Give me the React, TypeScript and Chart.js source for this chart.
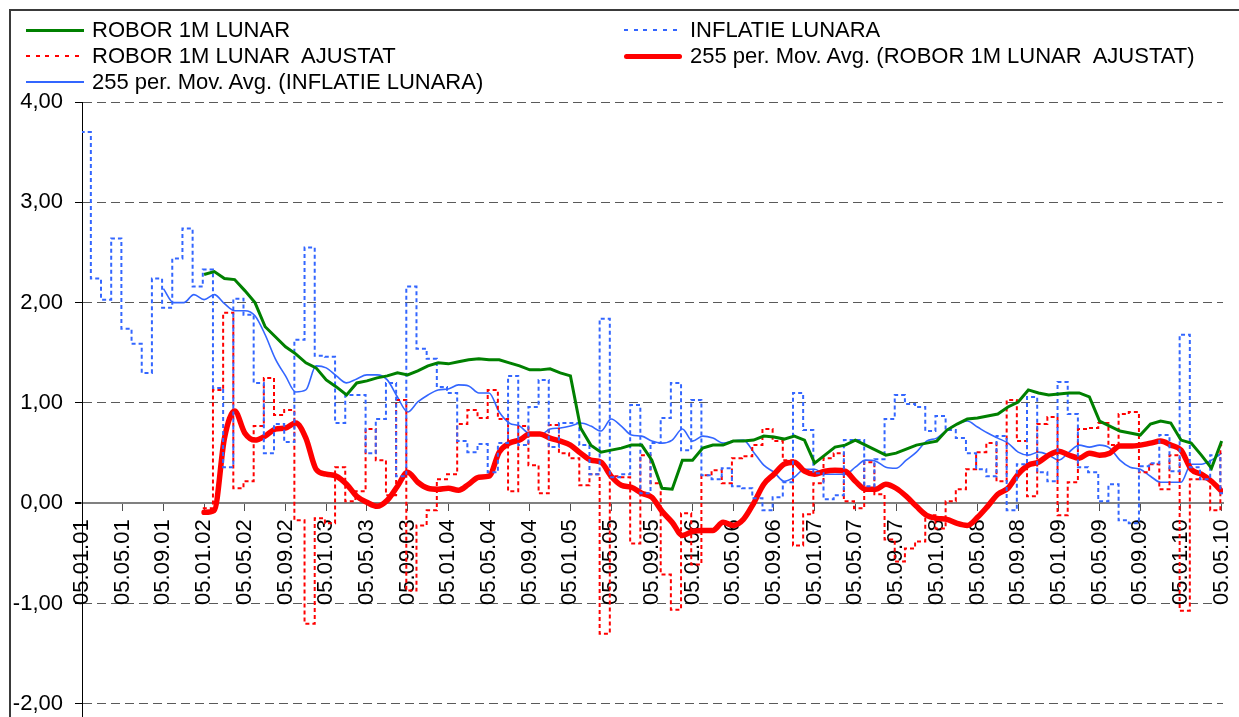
import React, { useEffect, useRef } from "react";
import { Chart, registerables } from "chart.js";

Chart.register(...registerables);

// Month index 0 = 05.01.01, one step = one month
const TICK_LABELS = [
  "05.01.01", "05.05.01", "05.09.01",
  "05.01.02", "05.05.02", "05.09.02",
  "05.01.03", "05.05.03", "05.09.03",
  "05.01.04", "05.05.04", "05.09.04",
  "05.01.05", "05.05.05", "05.09.05",
  "05.01.06", "05.05.06", "05.09.06",
  "05.01.07", "05.05.07", "05.09.07",
  "05.01.08", "05.05.08", "05.09.08",
  "05.01.09", "05.05.09", "05.09.09",
  "05.01.10", "05.05.10",
];
const TICK_STEP_MONTHS = 4;
const Y_TICKS = [-2, -1, 0, 1, 2, 3, 4];
const X_MAX = 112.13;
const Y_MIN = -2.13;
const Y_MAX = 4;
// monthly values are dated on the 1st of the month, ticks on the 5th
const MONTH_START_OFFSET = -0.13;

// ROBOR 1M LUNAR (from month 12)
const ROBOR_START = 12;
const ROBOR = [
  2.28, 2.31, 2.24, 2.23, 2.12, 2.0, 1.76, 1.66,
  1.56, 1.49, 1.4, 1.35, 1.23, 1.16, 1.08, 1.2, 1.22, 1.25,
  1.27, 1.3, 1.28, 1.32, 1.37, 1.4, 1.39, 1.41, 1.43, 1.44,
  1.43, 1.43, 1.4, 1.37, 1.33, 1.33, 1.34, 1.3, 1.27, 0.75,
  0.58, 0.51, 0.53, 0.55, 0.58, 0.58, 0.43, 0.15, 0.14, 0.43,
  0.43, 0.55, 0.58, 0.58, 0.62, 0.62, 0.63, 0.67, 0.66, 0.64,
  0.67, 0.63, 0.4, 0.48, 0.56, 0.58, 0.63, 0.58, 0.53, 0.48,
  0.5, 0.54, 0.58, 0.6, 0.62, 0.73, 0.79, 0.84, 0.85, 0.87,
  0.89, 0.96, 1.01, 1.13, 1.1, 1.08, 1.09, 1.1, 1.1, 1.06,
  0.82, 0.77, 0.72, 0.7, 0.68, 0.79, 0.82, 0.8, 0.63, 0.6,
  0.48, 0.35, 0.62,
];

// INFLATIE LUNARA (monthly, from month 0)
const INFL_START = 0;
const INFL = [
  3.7, 2.24, 2.03, 2.64, 1.74, 1.59, 1.3, 2.24, 1.95, 2.44,
  2.74, 2.16, 2.33, 1.15, 0.36, 2.04, 1.88, 1.2, 0.5, 0.79,
  0.61, 1.63, 2.55, 1.47, 1.46, 0.8, 1.08, 1.08, 0.5, 0.84,
  1.2, 0.27, 2.16, 1.54, 1.44, 1.16, 1.1, 0.62, 0.51, 0.59,
  0.31, 0.6, 1.27, 0.58, 0.96, 1.23, 0.56, 0.8, 0.8, 0.58,
  0.29, 1.84, 0.26, 0.29, 0.98, 0.1, 0.6, 0.85, 1.2, 0.53,
  1.03, 0.28, 0.24, 0.35, 0.17, 0.15, 0.05, -0.07, 0.06, 0.21,
  1.1, 0.73, 0.3, 0.04, 0.08, 0.63, 0.63, 0.17, 0.44, 0.84,
  1.08, 0.99, 0.96, 0.72, 0.87, 0.73, 0.65, 0.5, 0.34, 0.27,
  0.67, -0.07, 0.39, 1.06, 0.31, 0.22, 1.21, 0.89, 0.36, 0.31,
  0.02, 0.19, -0.17, -0.2, 0.37, 0.4, 0.68, 0.32, 1.68, 0.36,
  0.24, 0.48, 0.1,
];

// ROBOR 1M LUNAR  AJUSTAT (from month 12)
const ROBOR_ADJ_START = 12;
const ROBOR_ADJ = [
  -0.05, 1.13, 1.9, 0.15, 0.22, 0.77, 1.25, 0.88,
  0.93, -0.17, -1.2, -0.15, -0.2, 0.36, 0.02, 0.12, 0.74, 0.43,
  0.08, 1.03, -0.87, -0.22, -0.07, 0.24, 0.29, 0.79, 0.93, 0.85,
  1.13, 0.84, 0.12, 0.77, 0.38, 0.1, 0.78, 0.5, 0.45, 0.18,
  0.29, -1.3, 0.27, 0.26, -0.4, 0.48, 0.2, -0.71, -1.06, -0.1,
  -0.61, 0.28, 0.33, 0.2, 0.45, 0.47, 0.58, 0.74, 0.62, 0.43,
  -0.42, -0.11, 0.2, 0.45, 0.5, 0.02, -0.05, 0.41, 0.09, -0.36,
  -0.58, -0.45, -0.38, -0.12, -0.25, 0.02, 0.14, 0.34, 0.51, 0.6,
  0.22, 1.03, 0.62, 0.07, 0.79, 0.86, -0.12, 0.21, 0.74, 0.75,
  0.8, 0.58, 0.89, 0.91, 0.31, 0.39, 0.14, 0.48, -1.07, 0.24,
  0.24, -0.07, 0.58,
];

// 255 per. Mov. Avg. (ROBOR 1M LUNAR  AJUSTAT) (from month 12)
const MA_ADJ_START = 12;
const MA_ADJ = [
  -0.09, -0.07, 0.65, 0.92, 0.7, 0.63, 0.67, 0.74,
  0.75, 0.8, 0.65, 0.34, 0.29, 0.27, 0.19, 0.07, 0.01, -0.03,
  0.03, 0.17, 0.31, 0.21, 0.15, 0.14, 0.15, 0.13, 0.19, 0.26,
  0.27, 0.51, 0.6, 0.63, 0.69, 0.69, 0.65, 0.62, 0.58, 0.5,
  0.43, 0.41, 0.27, 0.18, 0.16, 0.1, 0.06, -0.08, -0.19, -0.32,
  -0.28, -0.27, -0.27, -0.19, -0.22, -0.16, 0.0, 0.19, 0.29, 0.39,
  0.41, 0.32, 0.29, 0.32, 0.33, 0.32, 0.22, 0.14, 0.14, 0.19,
  0.15, 0.07, -0.03, -0.12, -0.15, -0.16, -0.2, -0.22, -0.14, -0.03,
  0.09, 0.15, 0.29, 0.38, 0.41, 0.48, 0.52, 0.48, 0.45, 0.5,
  0.48, 0.5, 0.57, 0.57, 0.58, 0.6, 0.62, 0.58, 0.53, 0.34,
  0.29, 0.22, 0.12,
];

// 255 per. Mov. Avg. (INFLATIE LUNARA) (from month 8)
const MA_INFL_START = 8;
const MA_INFL = [
  2.14, 2.0,
  2.0, 2.08, 2.03, 2.08, 1.99, 1.92, 1.92, 1.87, 1.68, 1.44,
  1.27, 1.11, 1.13, 1.37, 1.35, 1.27, 1.2, 1.24, 1.28, 1.28,
  1.23, 1.06, 0.91, 1.01, 1.08, 1.13, 1.14, 1.18, 1.17, 1.1,
  1.1, 0.91, 0.8, 0.77, 0.69, 0.68, 0.74, 0.75, 0.77, 0.8,
  0.77, 0.72, 0.84, 0.77, 0.68, 0.67, 0.62, 0.6, 0.63, 0.74,
  0.62, 0.67, 0.65, 0.6, 0.62, 0.63, 0.51, 0.38, 0.31, 0.22,
  0.26, 0.34, 0.34, 0.29, 0.29, 0.29, 0.36, 0.43, 0.42, 0.36,
  0.35, 0.43, 0.51, 0.62, 0.65, 0.73, 0.79, 0.82, 0.76, 0.7,
  0.65, 0.6, 0.51, 0.48, 0.51, 0.48, 0.43, 0.51, 0.58, 0.56,
  0.58, 0.55, 0.43, 0.36, 0.34, 0.27, 0.21, 0.21, 0.21, 0.39,
  0.39, 0.43, 0.5,
];

const FONT_FAMILY = '"Liberation Sans", Arial, sans-serif';
const GREEN = "#008000";
const RED = "#FF0000";
const BLUE = "#3366FF";

function toPoints(start: number, values: number[], extendTo?: number) {
  const pts = values.map((v, i) => ({ x: start + i, y: v }));
  if (extendTo !== undefined) pts.push({ x: extendTo, y: values[values.length - 1] });
  return pts;
}

type LegendItem = { label: string; color: string; kind: "solid" | "dotted"; width: number; left: number; top: number };

const LEGEND: LegendItem[] = [
  { label: "ROBOR 1M LUNAR", color: GREEN, kind: "solid", width: 3, left: 26, top: 30 },
  { label: "INFLATIE LUNARA", color: BLUE, kind: "dotted", width: 2, left: 624, top: 30 },
  { label: "ROBOR 1M LUNAR  AJUSTAT", color: RED, kind: "dotted", width: 2, left: 26, top: 56 },
  { label: "255 per. Mov. Avg. (ROBOR 1M LUNAR  AJUSTAT)", color: RED, kind: "solid", width: 5, left: 624, top: 56 },
  { label: "255 per. Mov. Avg. (INFLATIE LUNARA)", color: BLUE, kind: "solid", width: 2, left: 26, top: 82 },
];

export default function App() {
  const canvasRef = useRef<HTMLCanvasElement | null>(null);

  useEffect(() => {
    const canvas = canvasRef.current;
    if (!canvas) return;
    const tickFont = { family: FONT_FAMILY, size: 22 };
    const chart = new Chart(canvas, {
      type: "line",
      data: {
        datasets: [
          {
            label: "ROBOR 1M LUNAR",
            data: toPoints(ROBOR_START, ROBOR),
            borderColor: GREEN,
            borderWidth: 3,
            pointRadius: 0,
            tension: 0,
          },
          {
            label: "INFLATIE LUNARA",
            data: toPoints(INFL_START + MONTH_START_OFFSET, INFL, X_MAX),
            borderColor: BLUE,
            borderWidth: 2,
            borderDash: [4, 3],
            stepped: "before",
            pointRadius: 0,
          },
          {
            label: "ROBOR 1M LUNAR  AJUSTAT",
            data: toPoints(ROBOR_ADJ_START + MONTH_START_OFFSET, ROBOR_ADJ, X_MAX),
            borderColor: RED,
            borderWidth: 2,
            borderDash: [4, 3],
            stepped: "before",
            pointRadius: 0,
          },
          {
            label: "255 per. Mov. Avg. (ROBOR 1M LUNAR  AJUSTAT)",
            data: toPoints(MA_ADJ_START, MA_ADJ),
            borderColor: RED,
            borderWidth: 5.5,
            borderCapStyle: "round",
            borderJoinStyle: "round",
            pointRadius: 0,
            cubicInterpolationMode: "monotone",
          },
          {
            label: "255 per. Mov. Avg. (INFLATIE LUNARA)",
            data: toPoints(MA_INFL_START, MA_INFL),
            borderColor: BLUE,
            borderWidth: 1.6,
            pointRadius: 0,
            cubicInterpolationMode: "monotone",
          },
        ],
      },
      options: {
        animation: false,
        responsive: false,
        maintainAspectRatio: false,
        layout: { padding: { left: 0, top: 102, right: 16, bottom: 0 } },
        plugins: { legend: { display: false }, tooltip: { enabled: false } },
        scales: {
          x: {
            type: "linear",
            position: { y: 0 } as any,
            min: 0,
            max: X_MAX,
            afterBuildTicks: (s: any) => {
              s.ticks = TICK_LABELS.map((_, i) => ({ value: i * TICK_STEP_MONTHS }));
            },
            afterFit: (s: any) => {
              s.paddingLeft = 0;
              s.paddingRight = 0;
            },
            ticks: {
              autoSkip: false,
              maxRotation: 90,
              minRotation: 90,
              padding: 9,
              color: "#000",
              font: tickFont,
              callback: (v: any) => TICK_LABELS[Math.round(Number(v) / TICK_STEP_MONTHS)] ?? "",
            },
            grid: {
              drawOnChartArea: false,
              drawTicks: true,
              tickLength: 7,
              tickColor: "#505050",
              tickWidth: 1,
            },
            border: { display: true, color: "#808080", width: 2 },
          },
          y: {
            type: "linear",
            position: "left",
            min: Y_MIN,
            max: Y_MAX,
            afterBuildTicks: (s: any) => {
              s.ticks = Y_TICKS.map((v) => ({ value: v }));
            },
            afterFit: (s: any) => {
              s.width = 82;
              s.paddingTop = 0;
              s.paddingBottom = 0;
            },
            ticks: {
              padding: 12,
              color: "#000",
              font: tickFont,
              callback: (v: any) => Number(v).toFixed(2).replace(".", ","),
            },
            grid: {
              drawOnChartArea: true,
              drawTicks: true,
              tickLength: 7,
              tickColor: "#000",
              color: (c: any) => (c.tick && c.tick.value === 0 ? "#808080" : "#5a5a5a"),
              lineWidth: (c: any) => (c.tick && c.tick.value === 0 ? 2 : 1),
            },
            border: {
              display: true,
              color: "#000",
              width: 1,
              dash: (c: any) => (c.tick && c.tick.value !== 0 ? [9, 5] : []),
            } as any,
          },
        },
      },
    } as any);
    return () => chart.destroy();
  }, []);

  return (
    <div
      style={{
        position: "fixed",
        left: 0,
        top: 0,
        width: 1239,
        height: 717,
        overflow: "hidden",
        background: "#fff",
        fontFamily: FONT_FAMILY,
      }}
    >
      <div
        style={{
          position: "absolute",
          left: 9,
          top: 9,
          width: 1300,
          height: 800,
          borderLeft: "2px solid #3a3a3a",
          borderTop: "2px solid #3a3a3a",
        }}
      />
      <canvas
        ref={canvasRef}
        width={1239}
        height={717}
        style={{ position: "absolute", left: 0, top: 0, width: 1239, height: 717, display: "block" }}
      />
      {LEGEND.map((it) => (
        <React.Fragment key={it.label}>
          <div
            style={{
              position: "absolute",
              left: it.left,
              top: it.top - it.width / 2,
              width: 58,
              height: it.width,
              borderRadius: it.width >= 4 ? it.width / 2 : 0,
              background:
                it.kind === "solid"
                  ? it.color
                  : `repeating-linear-gradient(to right, ${it.color} 0 4px, transparent 4px 9.7px)`,
            }}
          />
          <div
            style={{
              position: "absolute",
              left: it.left + 66,
              top: it.top - 10.7,
              fontSize: 22,
              lineHeight: "22px",
              color: "#000",
              whiteSpace: "pre",
            }}
          >
            {it.label}
          </div>
        </React.Fragment>
      ))}
    </div>
  );
}
